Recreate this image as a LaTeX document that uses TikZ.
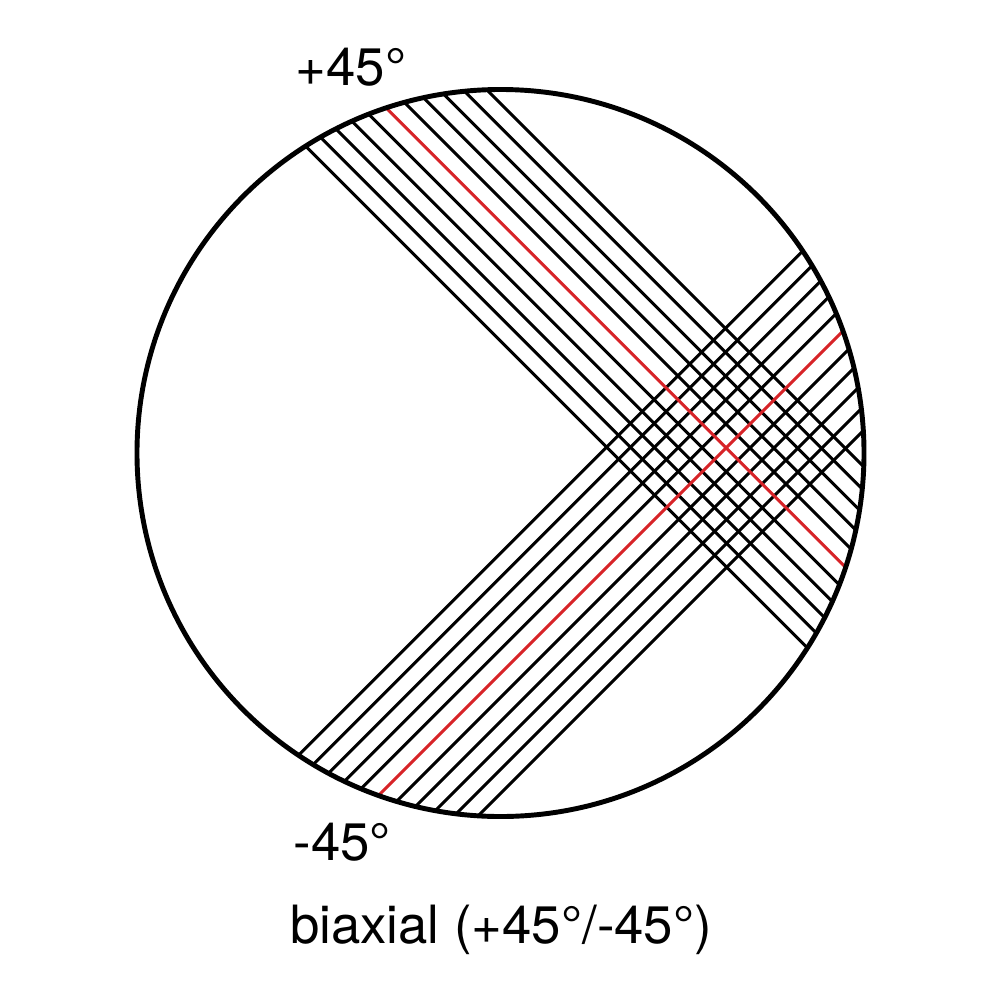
\documentclass[tikz,border=0pt]{standalone}
\usepackage{fontspec}
\setmainfont{TeX Gyre Heros}
\definecolor{fibrered}{RGB}{215,35,40}
\begin{document}
\begin{tikzpicture}[x=0.01cm,y=-0.01cm,
  fibre/.style={line width=0.85pt,black},
  redfibre/.style={line width=0.85pt,fibrered},
  rim/.style={line width=1.4pt,black},
  lbl/.style={font=\fontsize{15}{18}\selectfont,inner sep=0pt,anchor=base west}]
\useasboundingbox (0,0) rectangle (1000,1000);
\coordinate (c) at (500.5,453);
\begin{scope}
  \clip (c) circle[radius=363.3];
  % +45 family: x - y = const
  \foreach \k in {0,...,10}{
    \pgfmathsetmacro{\cc}{159.4+23.76*\k}
    \ifnum\k=5\relax\else
      \draw[fibre] (\cc+0,0) -- (\cc+1000,1000);
    \fi
  }
  % -45 family: x + y = const
  \foreach \k in {0,...,10}{
    \pgfmathsetmacro{\dd}{1053.7+24.03*\k}
    \ifnum\k=5\relax\else
      \draw[fibre] (\dd-0,0) -- (\dd-1000,1000);
    \fi
  }
  \draw[redfibre] (278.2,0) -- (1278.2,1000);
  \draw[redfibre] (1173.9,0) -- (173.9,1000);
\end{scope}
\node[draw,rim,circle,minimum size=7.266cm,inner sep=0pt] (rimcircle) at (c) {};
\node[lbl] (plus) at (295,85) {+45°};
\node[lbl] (minus) at (293,860) {-45°};
\node[lbl,anchor=base] (caption) at (501,943) {biaxial (+45°/-45°)};
\end{tikzpicture}
\end{document}
